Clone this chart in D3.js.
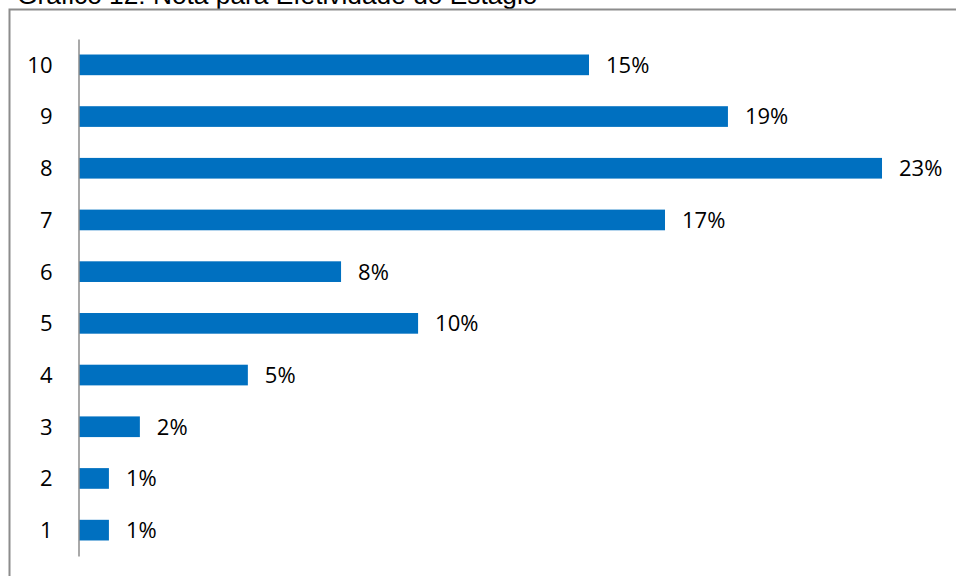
<!DOCTYPE html>
<html>
<head>
<meta charset="utf-8">
<script src="https://cdn.jsdelivr.net/npm/d3@7"></script>
<style>
  html, body { margin: 0; padding: 0; background: #fff; overflow: hidden; }
  svg { display: block; }
</style>
</head>
<body>
<svg id="chart" width="956" height="576"></svg>
<script>
// Nota atribuída à efetividade do estágio (escala de 1 a 10) e participação de cada nota
const notas = ["10", "9", "8", "7", "6", "5", "4", "3", "2", "1"];
const participacao = [0.1483, 0.1887, 0.2335, 0.1704, 0.0762, 0.0986, 0.0491, 0.0177, 0.0087, 0.0087];
const titulo = "Gráfico 12: Nota para Efetividade do Estágio";

const svg = d3.select("#chart");
const W = 956, H = 576;

const labelFont = "'Open Sans', 'Noto Sans', sans-serif";
const blue = "#0070C0";

// title, partly above the visible area
svg.append("text")
  .attr("x", 17)
  .attr("y", 4)
  .attr("font-family", "'Liberation Sans', Arial, sans-serif")
  .attr("font-size", 26.3)
  .attr("fill", "#000")
  .text(titulo);

// outer frame (only the top and left edges fall inside the view)
svg.append("path")
  .attr("d", `M9.5,${H} V9.5 H${W}`)
  .attr("fill", "none")
  .attr("stroke", "#8c8c8c")
  .attr("stroke-width", 2);

const x0 = 79;
const x = d3.scaleLinear().domain([0, 0.25]).range([x0, x0 + 859.75]);
const y = d3.scaleBand().domain(notas).range([39, 556]).paddingInner(0.6).paddingOuter(0.3);

const data = notas.map((n, i) => ({ nota: n, valor: participacao[i] }));

// bars
svg.append("g").selectAll("rect")
  .data(data)
  .join("rect")
  .attr("x", x(0))
  .attr("y", d => y(d.nota))
  .attr("width", d => x(d.valor) - x(0))
  .attr("height", y.bandwidth())
  .attr("fill", blue);

// category axis
const yAxis = d3.axisLeft(y).tickSize(0).tickPadding(26);
const gy = svg.append("g")
  .attr("transform", `translate(${x0 - 0.5},0)`)
  .call(yAxis);
gy.select(".domain").attr("stroke", "#8c8c8c").attr("stroke-width", 1.5);
gy.selectAll(".tick text")
  .attr("font-family", labelFont)
  .attr("font-size", 22)
  .attr("fill", "#000")
  .attr("dy", "0.36em");

// value labels
const fmt = d3.format(".0%");
svg.append("g").selectAll("text")
  .data(data)
  .join("text")
  .attr("x", d => x(d.valor) + 17)
  .attr("y", d => y(d.nota) + y.bandwidth() / 2)
  .attr("dy", "0.36em")
  .attr("font-family", labelFont)
  .attr("font-size", 22)
  .attr("fill", "#000")
  .text(d => fmt(d.valor));
</script>
</body>
</html>
